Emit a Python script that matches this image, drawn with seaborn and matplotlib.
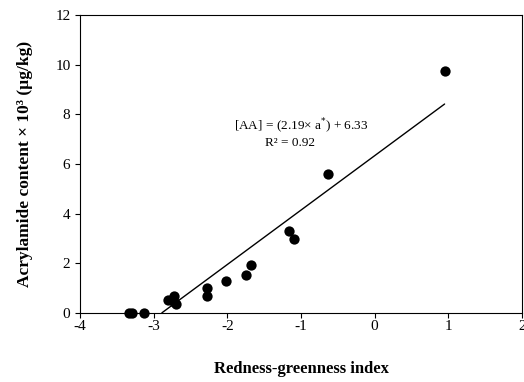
import numpy as np
import pandas as pd
import matplotlib
matplotlib.use("Agg")
import matplotlib.pyplot as plt
import seaborn as sns

# Redness-greenness index (a*) vs acrylamide content (x 10^3 ug/kg)
redness = [-3.33, -3.29, -3.13, -2.81, -2.73, -2.72, -2.70, -2.28, -2.28,
           -2.02, -1.75, -1.68, -1.17, -1.10, -0.64, 0.95]
acrylamide = [0.0, 0.0, 0.0, 0.52, 0.66, 0.45, 0.36, 1.02, 0.69,
              1.29, 1.53, 1.91, 3.31, 2.98, 5.60, 9.73]

# regression fit [AA] = 2.19 a* + 6.33
slope = 2.19
intercept = 6.33
fit_range = [-2.89, 0.95]

df = pd.DataFrame({'a': redness, 'aa': acrylamide})
fit_x = np.array(fit_range)
fit_df = pd.DataFrame({'a': fit_x, 'aa': slope * fit_x + intercept})

sns.set_style("ticks")
plt.rcParams['font.family'] = ['Liberation Serif', 'DejaVu Serif']
plt.rcParams['axes.unicode_minus'] = False
plt.rcParams['text.color'] = 'black'
plt.rcParams['axes.labelcolor'] = 'black'

fig = plt.figure(figsize=(5.24, 3.82), dpi=100)
ax = fig.add_axes([0.153, 0.181, 0.843, 0.780])

sns.lineplot(data=fit_df, x='a', y='aa', color='black', linewidth=1.0, ax=ax)
sns.scatterplot(data=df, x='a', y='aa', color='black', s=55, edgecolor='black',
                linewidth=0, zorder=3, clip_on=False, ax=ax)

ax.set_xlim(-4, 2)
ax.set_ylim(0, 12)
ax.set_xticks(range(-4, 3))
ax.set_yticks(range(0, 13, 2))
ax.tick_params(axis='both', direction='out', length=3.5, width=0.8,
               labelsize=11, color='black', labelcolor='black')
ax.tick_params(axis='x', pad=2)
for sp in ax.spines.values():
    sp.set_color('black')
    sp.set_linewidth(0.8)

ax.set_xlabel('Redness-greenness index', fontsize=12, fontweight='bold', labelpad=20)
ax.set_ylabel('Acrylamide content \u00d7 10\u00b3 (\u00b5g/kg)', fontsize=12.5,
              fontweight='bold', labelpad=16)

ax.text(-1.0, 7.5, '[AA] = (2.19\u00d7 a$^{*}$) + 6.33', fontsize=9.5,
        ha='center', va='center')
ax.text(-1.15, 6.85, 'R\u00b2 = 0.92', fontsize=9.5, ha='center', va='center')

fig.savefig('out.png', dpi=100)
